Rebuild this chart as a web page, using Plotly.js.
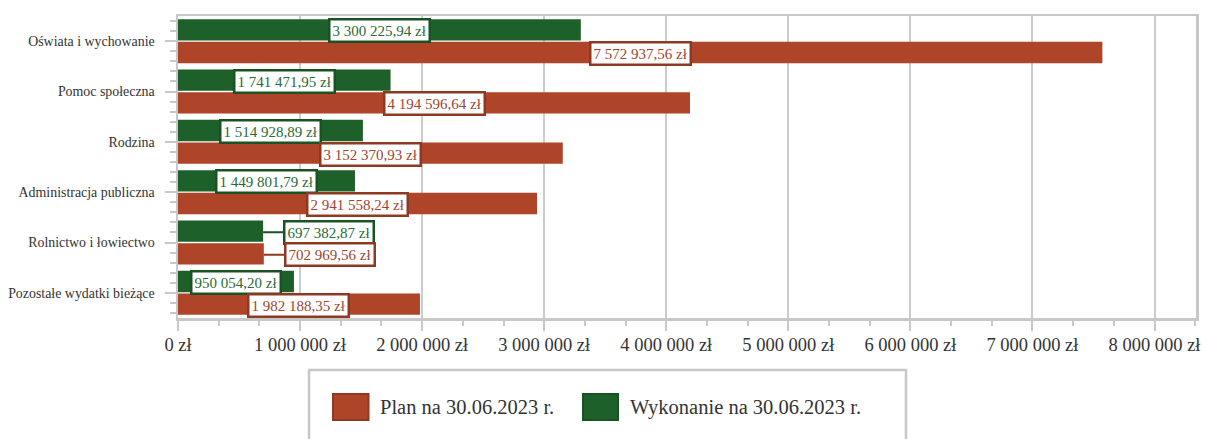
<!DOCTYPE html>
<html>
<head>
<meta charset="utf-8">
<script src="https://cdn.plot.ly/plotly-3.0.1.min.js"></script>
<style>
html,body{margin:0;padding:0;background:#fff;}
#chart{width:1205px;height:439px;}
</style>
</head>
<body>
<div id="chart"></div>
<script>
const categories = ['Oświata i wychowanie','Pomoc społeczna','Rodzina','Administracja publiczna','Rolnictwo i łowiectwo','Pozostałe wydatki bieżące'];
const planValues = [7572937.56, 4194596.64, 3152370.93, 2941558.24, 702969.56, 1982188.35];
const wykonanieValues = [3300225.94, 1741471.95, 1514928.89, 1449801.79, 697382.87, 950054.20];
const seriesNames = ['Plan na 30.06.2023 r.', 'Wykonanie na 30.06.2023 r.'];
const xTickValues = [0, 1000000, 2000000, 3000000, 4000000, 5000000, 6000000, 7000000, 8000000];

const RED = '#ae4428', RED_DARK = '#8e3a22', RED_TEXT = '#a0432f';
const GREEN = '#1e602a', GREEN_DARK = '#1a5224', GREEN_TEXT = '#2a6a36';
const FONT = 'Liberation Serif, Times New Roman, serif';

function fmt(v, dec) {
  const s = v.toFixed(dec);
  const parts = s.split('.');
  const intPart = parts[0].replace(/\B(?=(\d{3})+(?!\d))/g, ' ');
  return (dec ? intPart + ',' + parts[1] : intPart) + ' zł';
}

const yIdx = categories.map((c, i) => i);

const traces = [
  {type:'bar', orientation:'h', name: seriesNames[1], x: wykonanieValues, y: yIdx,
   marker:{color: GREEN}, hoverinfo:'skip', showlegend:false},
  {type:'bar', orientation:'h', name: seriesNames[0], x: planValues, y: yIdx,
   marker:{color: RED}, hoverinfo:'skip', showlegend:false}
];

const annotations = [];
function addLabels(values, yOff, border, textColor) {
  values.forEach((v, i) => {
    const outside = v < 800000;
    const a = {
      xref:'x', yref:'y', y: i + yOff, yshift: -1,
      text: fmt(v, 2), font:{family: FONT, size: 15, color: textColor},
      bgcolor:'#ffffff', bordercolor: border, borderwidth: 2.5, borderpad: 2
    };
    if (outside) {
      a.x = v; a.showarrow = true; a.arrowhead = 0; a.arrowwidth = 2;
      a.arrowcolor = border; a.ax = 66; a.ay = 0; a.standoff = 0;
    } else {
      a.x = v / 2; a.showarrow = false;
    }
    annotations.push(a);
  });
}
addLabels(wykonanieValues, -0.225, GREEN_DARK, GREEN_TEXT);
addLabels(planValues, 0.225, RED_DARK, RED_TEXT);

// custom legend
const plotL = 178, plotW = 1018, plotT = 16, plotH = 302;
const px = x => (x - plotL) / plotW;
const py = y => (plotT + plotH - y) / plotH;
const shapes = [
  {type:'rect', xref:'paper', yref:'paper', x0: px(309), x1: px(906), y0: py(460), y1: py(370),
   line:{color:'#c8c8c8', width:2.5}, fillcolor:'rgba(0,0,0,0)'},
  {type:'rect', xref:'paper', yref:'paper', x0: px(333), x1: px(368.5), y0: py(420), y1: py(394),
   line:{color: RED_DARK, width:2}, fillcolor: RED},
  {type:'rect', xref:'paper', yref:'paper', x0: px(583), x1: px(618), y0: py(420), y1: py(394),
   line:{color: GREEN_DARK, width:2}, fillcolor: GREEN}
];
annotations.push(
  {xref:'paper', yref:'paper', x: px(378), y: py(407), xanchor:'left', yanchor:'middle', showarrow:false,
   text: seriesNames[0], font:{family: FONT, size: 20.5, color:'#333333'}},
  {xref:'paper', yref:'paper', x: px(628), y: py(407), xanchor:'left', yanchor:'middle', showarrow:false,
   text: seriesNames[1], font:{family: FONT, size: 20.5, color:'#333333'}}
);

const layout = {
  width: 1205, height: 439,
  margin: {l: 178, r: 9, t: 16, b: 121, pad: 0},
  paper_bgcolor:'#ffffff', plot_bgcolor:'#ffffff',
  barmode:'group', bargap: 0.1, bargroupgap: 0.06,
  showlegend:false,
  font:{family: FONT, color:'#333333'},
  xaxis:{
    range:[0, 8340000], tickvals: xTickValues, ticktext: xTickValues.map(v => fmt(v, 0)),
    tickfont:{family: FONT, size: 18.5, color:'#333333'},
    showgrid:true, gridcolor:'#cccccc', gridwidth:2,
    showline:true, linecolor:'#c8c8c8', linewidth:2.5, mirror:true,
    ticks:'outside', ticklen:10, tickwidth:2, tickcolor:'#c8c8c8',
    minor:{dtick: 1000000/3, tick0: 0, ticks:'outside', ticklen:5, tickwidth:2, tickcolor:'#c8c8c8', showgrid:false},
    zeroline:false, fixedrange:true, ticklabelstandoff: -2
  },
  yaxis:{
    range:[5.5, -0.5], tickvals: yIdx, ticktext: categories,
    tickfont:{family: FONT, size: 13.9, color:'#333333'},
    showgrid:false, showline:true, linecolor:'#c8c8c8', linewidth:2.5, mirror:true,
    ticks:'outside', ticklen:11, tickwidth:2, tickcolor:'#c8c8c8',
    minor:{dtick: 0.2, tick0: 0, ticks:'outside', ticklen:6, tickwidth:2, tickcolor:'#c8c8c8', showgrid:false},
    zeroline:false, fixedrange:true, ticklabelstandoff: 7
  },
  annotations: annotations,
  shapes: shapes
};

Plotly.newPlot('chart', traces, layout, {displayModeBar:false, staticPlot:true});
</script>
</body>
</html>
